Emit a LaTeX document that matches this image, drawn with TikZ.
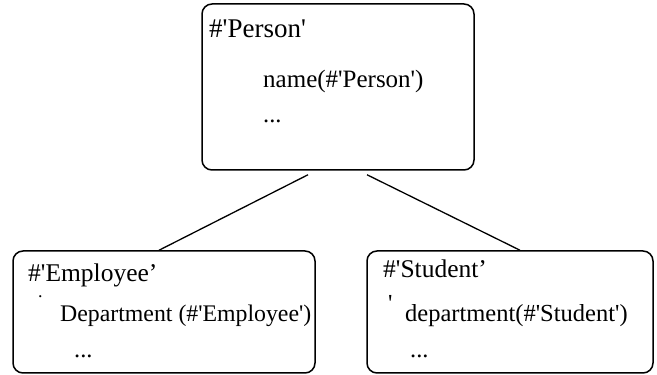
\documentclass[tikz,border=0pt]{standalone}
\usepackage{fontspec}
\setmainfont{Liberation Serif}[Ligatures=TeXOff]
\usepackage{tikz}

\tikzset{
  classbox/.style={draw,line width=1.5pt,rounded corners=10pt,inner sep=0pt},
  txt/.style={anchor=base west,inner sep=0pt,font=\fontsize{24.5}{28}\selectfont},
  title/.style={txt,font=\fontsize{25.5}{30}\selectfont},
  link/.style={line width=1.3pt}
}

\begin{document}
\begin{tikzpicture}[x=1pt,y=1pt]
			\useasboundingbox (0,0) rectangle (657,375);
			\node[classbox,minimum width=272pt,minimum height=166pt] (person) at (338,288) {};
			\node[classbox,minimum width=302pt,minimum height=122pt] (employee) at (164,63) {};
			\node[classbox,minimum width=286pt,minimum height=122pt] (student) at (510,63) {};
			\node[title,font=\fontsize{27}{32}\selectfont] (pname) at (209,337) {\#'Person'};
			\node[txt,font=\fontsize{25}{30}\selectfont] (pattr) at (263,287) {name(\#'Person')};
			\node[txt] (pdots) at (263,252) {...};
			\node[title] (ename) at (28,93) {\#'Employee’};
			\node[txt,font=\fontsize{18}{20}\selectfont] (edot) at (38,77) {.};
			\node[txt,font=\fontsize{23.8}{28}\selectfont] (eattr) at (60,53) {Department (\#'Employee')};
			\node[txt] (edots) at (74,17) {...};
			\node[title] (sname) at (383,97) {\#'Student’};
			\node[txt] (sdot) at (388,63) {'};
			\node[txt] (sattr) at (405,53) {department(\#'Student')};
			\node[txt] (sdots) at (410,17) {...};
			\draw[link] ([shift={(-30pt,-4pt)}]person.south) -- ([xshift=-5pt]employee.north);
			\draw[link] ([shift={(29pt,-4pt)}]person.south) -- ([xshift=10pt]student.north);
		\end{tikzpicture}
\end{document}
